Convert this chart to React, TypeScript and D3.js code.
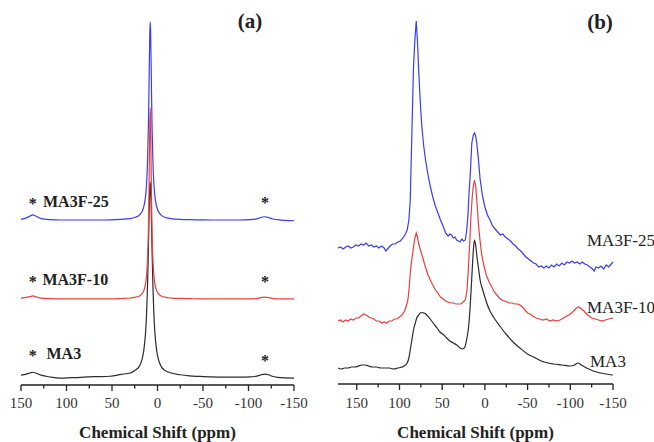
import React from "react";
import * as d3 from "d3";

// ---------- Panel (a) data ----------
const ppmA = [150, 144, 140, 137, 134, 128, 118, 107, 95, 85, 76, 65, 52, 40, 30, 25, 20, 17, 15, 13, 12, 11, 10, 9.5, 9, 8.5, 8, 7.5, 7, 6.5, 6, 5, 4, 3, 1, -1, -4, -8, -15, -25, -35, -47, -60, -75, -90, -102, -110, -114, -118, -122, -126, -132, -140, -150];
const ma3A = [0.8, 1.1, 1.4, 1.6, 1.4, 0.8, 0.3, 0.0, 0.1, 0.2, 0.35, 0.4, 0.5, 1.0, 1.4, 2.1, 3.2, 5.1, 7.7, 12.9, 17.6, 24.8, 35.4, 41.5, 47.5, 52.0, 53.7, 52.0, 47.5, 41.5, 35.4, 24.8, 17.6, 12.9, 7.7, 5.1, 3.2, 2.1, 1.4, 0.9, 0.6, 0.45, 0.3, 0.25, 0.25, 0.3, 0.6, 0.9, 1.1, 0.9, 0.5, 0.2, 0.05, 0.0];
const ma3f10A = [0.2, 0.4, 0.6, 0.8, 0.6, 0.2, 0.05, 0, 0, 0, 0, 0, 0, 0.1, 0.24, 0.41, 0.8, 1.41, 2.3, 4.3, 6.5, 10.5, 18.8, 26.2, 36.2, 47.1, 52.3, 47.1, 36.2, 26.2, 18.8, 10.5, 6.5, 4.3, 2.3, 1.41, 0.8, 0.46, 0.22, 0.11, 0.05, 0, 0, 0, 0, 0, 0.15, 0.35, 0.5, 0.35, 0.15, 0, 0, 0];
const ma3f25A = [0.2, 0.6, 1.1, 1.4, 1.1, 0.4, 0.1, 0, 0, 0, 0, 0, 0.05, 0.2, 0.4, 0.7, 1.33, 2.32, 3.72, 6.85, 10.0, 15.6, 25.8, 33.5, 42.5, 50.8, 54.3, 50.8, 42.5, 33.5, 25.8, 15.6, 10.0, 6.85, 3.72, 2.32, 1.33, 0.76, 0.4, 0.18, 0.1, 0.05, 0, 0, 0, 0.1, 0.4, 0.75, 0.9, 0.7, 0.35, 0.1, -0.1, -0.2];
const namesA = ["MA3", "MA3F-10", "MA3F-25"];
const offsetsA = [1.9, 23.6, 45.2];

// ---------- Panel (b) data ----------
const ppmB25 = [172, 169, 166, 163, 160, 157, 154, 151, 148, 145, 142, 139, 136, 133, 130, 127, 124, 121, 118, 116, 114, 111, 108, 105, 102, 99, 96, 93, 91, 89, 87.4, 85.5, 83.6, 82, 80.4, 79, 77.7, 75.8, 73.8, 71.5, 69.5, 67, 64, 61, 58, 55, 52, 49, 46, 43, 41, 39, 37, 35, 33, 31, 29, 27, 25, 23, 21.5, 20, 18.5, 17, 15.3, 13.5, 12.2, 10.8, 9.4, 7.5, 5.6, 3, 0, -3, -6, -9, -12, -15, -18, -21, -24, -27, -30, -33, -36, -39, -42, -45, -48, -51, -54, -57, -60, -63, -66, -69, -72, -75, -78, -81, -84, -87, -90, -93, -96, -99, -102, -105, -108, -111, -114, -117, -120, -123, -126, -128, -130, -133, -136, -139, -142, -145, -148, -150];
const valB25 = [-1, 0, -2, 0, 1, -1, 0, 2, 1, 3, 2, 4, 1, 2, 0, 1, -1, 1, -1, -4, -2, 1, 3, 3, 5, 6, 9, 13, 17, 27, 47, 114, 180, 207, 226, 207, 180, 147, 120, 100, 87, 74, 61, 50, 41, 34, 27, 21, 14, 11, 13, 12, 9, 10, 7, 6, 5, 8, 6, 7, 15, 30, 55, 75, 104, 112, 114, 111, 103, 87, 68, 52, 40, 32, 27, 21, 18, 15, 12, 13, 10, 8, 6, 3, 1, -2, -4, -7, -10, -12, -14, -16, -17, -20, -19, -21, -19, -21, -18, -20, -17, -19, -16, -18, -15, -16, -14, -16, -15, -17, -15, -17, -18, -20, -22, -24, -20, -21, -19, -22, -18, -20, -17, -15];

const ppmB10 = [172, 169, 166, 163, 160, 157, 154, 151, 148, 145, 142, 139, 136, 133, 130, 127, 124, 121, 118, 115, 112, 109, 106, 103, 100, 97, 94, 92, 90, 88.5, 87, 85.5, 83.6, 82, 80.4, 79, 77.7, 75.8, 73, 70, 67, 64, 61, 58, 55, 52, 49, 46, 43, 40, 37, 34, 31, 28, 25.5, 23, 21, 19.5, 18, 16.5, 15, 13.6, 12.2, 10.8, 9.4, 7.5, 5.5, 3.5, 0.5, -2, -5, -8, -11, -14, -17, -20, -23, -26, -29, -32, -35, -38, -41, -44, -47, -50, -53, -56, -60, -64, -68, -72, -76, -80, -84, -88, -92, -96, -100, -104, -107, -110, -113, -116, -119, -122, -125, -129, -133, -137, -141, -145, -150];
const valB10 = [0, 1, -1, 1, 0, 2, 1, 3, 3, 5, 7, 6, 4, 3, 2, 0, 0, -2, -1, -2, 0, 0, 2, 2, 4, 6, 10, 15, 22, 35, 52, 62, 74, 83, 88, 84, 78, 72, 64, 55, 47, 41, 36, 31, 28, 24, 22, 20, 19, 18, 18, 17, 17, 17, 19, 21, 30, 50, 74, 102, 122, 135, 141, 135, 120, 96, 79, 65, 53, 45, 39, 34, 29, 26, 23, 21, 20, 19, 18, 18, 17, 17, 16, 14, 11, 8, 7, 5, 3, 2, 1, 2, 0, 1, 0, 1, 3, 5, 7, 10, 13, 14, 12, 10, 7, 5, 3, 2, 1, 0, 1, 2, 3];

const ppmB3 = [172, 168, 164, 160, 156, 152, 148, 144, 140, 136, 132, 127, 122, 117, 112, 107, 102, 97, 93, 91, 89, 87.4, 85.5, 83.6, 81.5, 79.8, 77.5, 75.8, 73.5, 72, 70, 68, 64, 60.6, 56, 52.6, 48, 44.8, 41, 37, 33, 29, 26, 23.5, 21.5, 19.5, 17.5, 16, 14.5, 13.3, 12.2, 11, 9.4, 7.5, 5.6, 2.5, -0.3, -3, -6, -10, -14, -20, -25.7, -33, -41, -50, -57, -66, -80, -90, -100, -105, -109, -113, -119, -127, -135, -142, -150];
const valB3 = [0, -1, 0, 0, 1, 1, 2, 3, 3, 2, 1, 1, 0, 0, 0, -1, 0, 1, 3, 5, 10, 18, 28, 38, 45, 50, 53, 55, 55.5, 55, 54.5, 53, 49, 45, 40, 36, 33, 30, 27, 25, 23, 20, 19, 21, 28, 38, 58, 80, 104, 120, 128, 124, 112, 100, 88, 78, 70, 63, 57, 51, 46, 39, 33, 26, 20, 14, 11, 7, 4, 3, 2, 3, 5, 3, 0, -3, -5, -6, -7];

const namesB = ["MA3", "MA3F-10", "MA3F-25"];
const offsetsB = [17, 64, 138];

const majorTicks = [150, 100, 50, 0, -50, -100, -150];
const minorTicks = [125, 75, 25, -25, -75, -125];

const colors = ["#2b2b2b", "#e8403f", "#3c3cf0"];
const serif = "'Liberation Serif', 'Times New Roman', Times, serif";
const ink = "#222";

const W = 654;
const H = 442;

const xA = d3.scaleLinear().domain([150, -150]).range([21, 294]);
const yA = d3.scaleLinear().domain([0, 100]).range([385, 20]);
const xB = d3.scaleLinear().domain([172, -150]).range([338, 613]);
const yB = d3.scaleLinear().domain([0, 365]).range([385, 20]);

function Axis({ x, y0, x0, x1 }: { x: d3.ScaleLinear<number, number>; y0: number; x0: number; x1: number }) {
  return (
    <g>
      <line x1={x0} x2={x1} y1={y0} y2={y0} stroke={ink} strokeWidth={1.3} />
      {majorTicks.map((t) => (
        <g key={"M" + t}>
          <line x1={x(t)} x2={x(t)} y1={y0} y2={y0 + 6} stroke={ink} strokeWidth={1.3} />
          <text x={x(t)} y={408} textAnchor="middle" fontFamily={serif} fontSize={15} fill="#333">
            {String(t)}
          </text>
        </g>
      ))}
      {minorTicks.map((t) => (
        <line key={"m" + t} x1={x(t)} x2={x(t)} y1={y0} y2={y0 + 3.5} stroke={ink} strokeWidth={1.3} />
      ))}
      <text x={(x0 + x1) / 2} y={438} textAnchor="middle" fontFamily={serif} fontSize={17} fontWeight="bold" fill={ink}>
        Chemical Shift (ppm)
      </text>
    </g>
  );
}

export default function App() {
  const seriesA = [ma3A, ma3f10A, ma3f25A];
  const lineA = (vals: number[], off: number) =>
    d3
      .line<number>()
      .x((_, i) => xA(ppmA[i]))
      .y((v) => yA(v + off))
      .curve(d3.curveMonotoneX)(vals) || "";

  const seriesB: [number[], number[]][] = [
    [ppmB3, valB3],
    [ppmB10, valB10],
    [ppmB25, valB25],
  ];
  const lineB = (ppm: number[], vals: number[], off: number, smooth: boolean) =>
    d3
      .line<number>()
      .x((_, i) => xB(ppm[i]))
      .y((v) => yB(v + off))
      .curve(smooth ? d3.curveMonotoneX : d3.curveLinear)(vals) || "";

  const labelAx = [122, 126.5, 125.8];
  const labelAdy = [19, 14, 13];
  const labelBdy = [1, 8, 1];

  return (
    <svg
      width={W}
      height={H}
      viewBox={`0 0 ${W} ${H}`}
      style={{ position: "absolute", left: 0, top: 0, background: "#fff", overflow: "hidden" }}
    >
      <rect x={0} y={0} width={W} height={H} fill="#fff" />
      {/* Panel (a) */}
      {seriesA.map((vals, i) => (
        <path key={namesA[i]} d={lineA(vals, offsetsA[i])} fill="none" stroke={colors[i]} strokeWidth={1.2} />
      ))}
      <Axis x={xA} y0={385} x0={xA(150)} x1={xA(-150)} />
      <text x={250} y={28} textAnchor="middle" fontFamily={serif} fontSize={21} fontWeight="bold" fill={ink}>
        (a)
      </text>
      {namesA.map((n, i) => {
        const yb = yA(offsetsA[i]);
        return (
          <g key={"la" + n}>
            <text x={xA(137)} y={yb - labelAdy[i] + 2} textAnchor="middle" fontFamily={serif} fontSize={16} fontWeight="bold" fill={ink}>
              *
            </text>
            <text x={xA(labelAx[i])} y={yb - labelAdy[i]} fontFamily={serif} fontSize={16} fontWeight="bold" fill={ink}>
              {n}
            </text>
            <text x={xA(-118)} y={yb - 12} textAnchor="middle" fontFamily={serif} fontSize={16} fontWeight="bold" fill={ink}>
              *
            </text>
          </g>
        );
      })}

      {/* Panel (b) */}
      {seriesB.map(([ppm, vals], i) => (
        <path key={namesB[i]} d={lineB(ppm, vals, offsetsB[i], i === 0)} fill="none" stroke={colors[i]} strokeWidth={1.2} />
      ))}
      <Axis x={xB} y0={384} x0={xB(172)} x1={xB(-150)} />
      <text x={600} y={29} textAnchor="middle" fontFamily={serif} fontSize={21} fontWeight="bold" fill={ink}>
        (b)
      </text>
      {namesB.map((n, i) => (
        <text key={"lb" + n} x={i === 0 ? 590 : 587} y={yB(offsetsB[i]) - labelBdy[i]} fontFamily={serif} fontSize={17} fill={ink}>
          {n}
        </text>
      ))}
    </svg>
  );
}
